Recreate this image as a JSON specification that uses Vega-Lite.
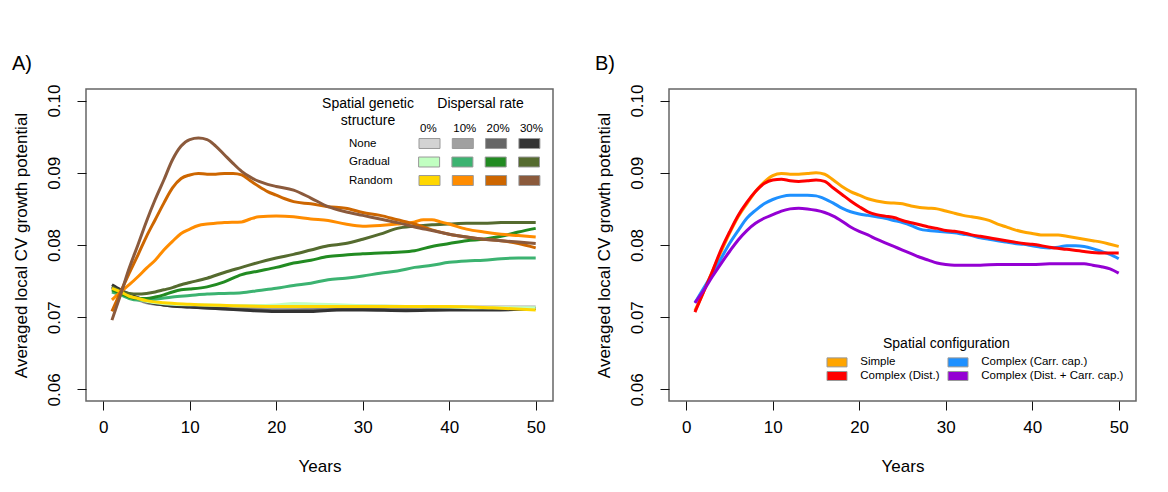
{
"$schema": "https://vega.github.io/schema/vega-lite/v6.json",
"background": "white",
"padding": {"left": 11, "top": 52, "right": 0, "bottom": 0},
"bounds": "flush",
"spacing": 116,
"resolve": {"scale": {"color": "independent", "shape": "independent"}},
"config": {
  "font": "Liberation Sans",
  "view": {"stroke": "#666", "strokeWidth": 1.5},
  "axis": {"grid": false, "domain": false, "tickColor": "#111", "tickSize": 9, "labelFontSize": 17, "titleFontSize": 17, "labelColor": "#000", "titleColor": "#000", "titleFontWeight": "normal", "labelPadding": 9, "labelFlush": false, "labelOverlap": false},
  "legend": {"titleFontWeight": "normal", "titleColor": "#000", "labelColor": "#000", "labelFontSize": 11.5, "padding": 0, "offset": 0},
  "title": {"fontSize": 20, "fontWeight": "normal", "anchor": "start", "frame": "bounds", "offset": 10.5, "color": "#000"}
},
"datasets": {
"A": [
{"structure":"None","rate":"0%","year":1,"value":0.0738},{"structure":"None","rate":"0%","year":2,"value":0.0734},{"structure":"None","rate":"0%","year":3,"value":0.0730},{"structure":"None","rate":"0%","year":4,"value":0.0726},{"structure":"None","rate":"0%","year":5,"value":0.0722},{"structure":"None","rate":"0%","year":7,"value":0.0719},{"structure":"None","rate":"0%","year":10,"value":0.0717},{"structure":"None","rate":"0%","year":13,"value":0.0716},{"structure":"None","rate":"0%","year":16,"value":0.0716},{"structure":"None","rate":"0%","year":20,"value":0.0715},{"structure":"None","rate":"0%","year":25,"value":0.0716},{"structure":"None","rate":"0%","year":30,"value":0.0716},{"structure":"None","rate":"0%","year":35,"value":0.0715},{"structure":"None","rate":"0%","year":40,"value":0.0715},{"structure":"None","rate":"0%","year":45,"value":0.0715},{"structure":"None","rate":"0%","year":50,"value":0.0715},
{"structure":"None","rate":"10%","year":1,"value":0.0740},{"structure":"None","rate":"10%","year":2,"value":0.0734},{"structure":"None","rate":"10%","year":3,"value":0.0728},{"structure":"None","rate":"10%","year":4,"value":0.0724},{"structure":"None","rate":"10%","year":5,"value":0.0720},{"structure":"None","rate":"10%","year":7,"value":0.0717},{"structure":"None","rate":"10%","year":10,"value":0.0715},{"structure":"None","rate":"10%","year":13,"value":0.0714},{"structure":"None","rate":"10%","year":16,"value":0.0713},{"structure":"None","rate":"10%","year":20,"value":0.0712},{"structure":"None","rate":"10%","year":25,"value":0.0712},{"structure":"None","rate":"10%","year":30,"value":0.0713},{"structure":"None","rate":"10%","year":35,"value":0.0712},{"structure":"None","rate":"10%","year":40,"value":0.0712},{"structure":"None","rate":"10%","year":45,"value":0.0712},{"structure":"None","rate":"10%","year":50,"value":0.0713},
{"structure":"None","rate":"20%","year":1,"value":0.0742},{"structure":"None","rate":"20%","year":2,"value":0.0735},{"structure":"None","rate":"20%","year":3,"value":0.0729},{"structure":"None","rate":"20%","year":4,"value":0.0725},{"structure":"None","rate":"20%","year":5,"value":0.0721},{"structure":"None","rate":"20%","year":7,"value":0.0717},{"structure":"None","rate":"20%","year":10,"value":0.0714},{"structure":"None","rate":"20%","year":13,"value":0.0712},{"structure":"None","rate":"20%","year":16,"value":0.0711},{"structure":"None","rate":"20%","year":20,"value":0.0709},{"structure":"None","rate":"20%","year":25,"value":0.0710},{"structure":"None","rate":"20%","year":30,"value":0.0711},{"structure":"None","rate":"20%","year":35,"value":0.0710},{"structure":"None","rate":"20%","year":40,"value":0.0711},{"structure":"None","rate":"20%","year":45,"value":0.0711},{"structure":"None","rate":"20%","year":50,"value":0.0712},
{"structure":"None","rate":"30%","year":1,"value":0.0745},{"structure":"None","rate":"30%","year":2,"value":0.0738},{"structure":"None","rate":"30%","year":3,"value":0.0732},{"structure":"None","rate":"30%","year":4,"value":0.0727},{"structure":"None","rate":"30%","year":5,"value":0.0722},{"structure":"None","rate":"30%","year":7,"value":0.0717},{"structure":"None","rate":"30%","year":10,"value":0.0714},{"structure":"None","rate":"30%","year":13,"value":0.0712},{"structure":"None","rate":"30%","year":16,"value":0.0710},{"structure":"None","rate":"30%","year":20,"value":0.0708},{"structure":"None","rate":"30%","year":24,"value":0.0708},{"structure":"None","rate":"30%","year":27,"value":0.0710},{"structure":"None","rate":"30%","year":30,"value":0.0710},{"structure":"None","rate":"30%","year":35,"value":0.0709},{"structure":"None","rate":"30%","year":40,"value":0.0710},{"structure":"None","rate":"30%","year":45,"value":0.0710},{"structure":"None","rate":"30%","year":50,"value":0.0712},
{"structure":"Gradual","rate":"0%","year":1,"value":0.0739},{"structure":"Gradual","rate":"0%","year":2,"value":0.0734},{"structure":"Gradual","rate":"0%","year":3,"value":0.0729},{"structure":"Gradual","rate":"0%","year":4,"value":0.0725},{"structure":"Gradual","rate":"0%","year":5,"value":0.0722},{"structure":"Gradual","rate":"0%","year":8,"value":0.0718},{"structure":"Gradual","rate":"0%","year":12,"value":0.0717},{"structure":"Gradual","rate":"0%","year":16,"value":0.0716},{"structure":"Gradual","rate":"0%","year":20,"value":0.0717},{"structure":"Gradual","rate":"0%","year":22,"value":0.0719},{"structure":"Gradual","rate":"0%","year":25,"value":0.0718},{"structure":"Gradual","rate":"0%","year":30,"value":0.0716},{"structure":"Gradual","rate":"0%","year":35,"value":0.0715},{"structure":"Gradual","rate":"0%","year":40,"value":0.0714},{"structure":"Gradual","rate":"0%","year":45,"value":0.0713},{"structure":"Gradual","rate":"0%","year":50,"value":0.0713},
{"structure":"Gradual","rate":"10%","year":1,"value":0.0735},{"structure":"Gradual","rate":"10%","year":2,"value":0.0731},{"structure":"Gradual","rate":"10%","year":3,"value":0.0726},{"structure":"Gradual","rate":"10%","year":4,"value":0.0724},{"structure":"Gradual","rate":"10%","year":5,"value":0.0724},{"structure":"Gradual","rate":"10%","year":6,"value":0.0725},{"structure":"Gradual","rate":"10%","year":8,"value":0.0728},{"structure":"Gradual","rate":"10%","year":10,"value":0.0730},{"structure":"Gradual","rate":"10%","year":12,"value":0.0732},{"structure":"Gradual","rate":"10%","year":14,"value":0.0733},{"structure":"Gradual","rate":"10%","year":16,"value":0.0734},{"structure":"Gradual","rate":"10%","year":18,"value":0.0737},{"structure":"Gradual","rate":"10%","year":20,"value":0.0740},{"structure":"Gradual","rate":"10%","year":22,"value":0.0744},{"structure":"Gradual","rate":"10%","year":24,"value":0.0747},{"structure":"Gradual","rate":"10%","year":26,"value":0.0752},{"structure":"Gradual","rate":"10%","year":28,"value":0.0754},{"structure":"Gradual","rate":"10%","year":30,"value":0.0757},{"structure":"Gradual","rate":"10%","year":32,"value":0.0761},{"structure":"Gradual","rate":"10%","year":34,"value":0.0764},{"structure":"Gradual","rate":"10%","year":36,"value":0.0769},{"structure":"Gradual","rate":"10%","year":38,"value":0.0772},{"structure":"Gradual","rate":"10%","year":40,"value":0.0776},{"structure":"Gradual","rate":"10%","year":42,"value":0.0778},{"structure":"Gradual","rate":"10%","year":44,"value":0.0779},{"structure":"Gradual","rate":"10%","year":46,"value":0.0781},{"structure":"Gradual","rate":"10%","year":48,"value":0.0782},{"structure":"Gradual","rate":"10%","year":50,"value":0.0782},
{"structure":"Gradual","rate":"20%","year":1,"value":0.0738},{"structure":"Gradual","rate":"20%","year":2,"value":0.0733},{"structure":"Gradual","rate":"20%","year":3,"value":0.0728},{"structure":"Gradual","rate":"20%","year":4,"value":0.0726},{"structure":"Gradual","rate":"20%","year":5,"value":0.0726},{"structure":"Gradual","rate":"20%","year":6,"value":0.0728},{"structure":"Gradual","rate":"20%","year":7,"value":0.0731},{"structure":"Gradual","rate":"20%","year":8,"value":0.0735},{"structure":"Gradual","rate":"20%","year":9,"value":0.0738},{"structure":"Gradual","rate":"20%","year":10,"value":0.0739},{"structure":"Gradual","rate":"20%","year":12,"value":0.0742},{"structure":"Gradual","rate":"20%","year":14,"value":0.0749},{"structure":"Gradual","rate":"20%","year":16,"value":0.0759},{"structure":"Gradual","rate":"20%","year":18,"value":0.0764},{"structure":"Gradual","rate":"20%","year":20,"value":0.0769},{"structure":"Gradual","rate":"20%","year":22,"value":0.0775},{"structure":"Gradual","rate":"20%","year":24,"value":0.0779},{"structure":"Gradual","rate":"20%","year":26,"value":0.0784},{"structure":"Gradual","rate":"20%","year":28,"value":0.0786},{"structure":"Gradual","rate":"20%","year":30,"value":0.0788},{"structure":"Gradual","rate":"20%","year":32,"value":0.0789},{"structure":"Gradual","rate":"20%","year":34,"value":0.0790},{"structure":"Gradual","rate":"20%","year":36,"value":0.0792},{"structure":"Gradual","rate":"20%","year":38,"value":0.0798},{"structure":"Gradual","rate":"20%","year":40,"value":0.0802},{"structure":"Gradual","rate":"20%","year":42,"value":0.0806},{"structure":"Gradual","rate":"20%","year":44,"value":0.0808},{"structure":"Gradual","rate":"20%","year":46,"value":0.0812},{"structure":"Gradual","rate":"20%","year":48,"value":0.0818},{"structure":"Gradual","rate":"20%","year":50,"value":0.0823},
{"structure":"Gradual","rate":"30%","year":1,"value":0.0742},{"structure":"Gradual","rate":"30%","year":2,"value":0.0736},{"structure":"Gradual","rate":"30%","year":3,"value":0.0733},{"structure":"Gradual","rate":"30%","year":4,"value":0.0732},{"structure":"Gradual","rate":"30%","year":5,"value":0.0733},{"structure":"Gradual","rate":"30%","year":6,"value":0.0735},{"structure":"Gradual","rate":"30%","year":7,"value":0.0738},{"structure":"Gradual","rate":"30%","year":8,"value":0.0741},{"structure":"Gradual","rate":"30%","year":9,"value":0.0745},{"structure":"Gradual","rate":"30%","year":10,"value":0.0748},{"structure":"Gradual","rate":"30%","year":12,"value":0.0754},{"structure":"Gradual","rate":"30%","year":14,"value":0.0762},{"structure":"Gradual","rate":"30%","year":16,"value":0.0769},{"structure":"Gradual","rate":"30%","year":18,"value":0.0776},{"structure":"Gradual","rate":"30%","year":20,"value":0.0782},{"structure":"Gradual","rate":"30%","year":22,"value":0.0787},{"structure":"Gradual","rate":"30%","year":24,"value":0.0793},{"structure":"Gradual","rate":"30%","year":26,"value":0.0799},{"structure":"Gradual","rate":"30%","year":28,"value":0.0802},{"structure":"Gradual","rate":"30%","year":30,"value":0.0808},{"structure":"Gradual","rate":"30%","year":32,"value":0.0815},{"structure":"Gradual","rate":"30%","year":34,"value":0.0823},{"structure":"Gradual","rate":"30%","year":36,"value":0.0826},{"structure":"Gradual","rate":"30%","year":38,"value":0.0828},{"structure":"Gradual","rate":"30%","year":40,"value":0.0829},{"structure":"Gradual","rate":"30%","year":42,"value":0.0830},{"structure":"Gradual","rate":"30%","year":44,"value":0.0830},{"structure":"Gradual","rate":"30%","year":46,"value":0.0831},{"structure":"Gradual","rate":"30%","year":48,"value":0.0831},{"structure":"Gradual","rate":"30%","year":50,"value":0.0831},
{"structure":"Random","rate":"0%","year":1,"value":0.0740},{"structure":"Random","rate":"0%","year":2,"value":0.0735},{"structure":"Random","rate":"0%","year":3,"value":0.0729},{"structure":"Random","rate":"0%","year":4,"value":0.0726},{"structure":"Random","rate":"0%","year":5,"value":0.0723},{"structure":"Random","rate":"0%","year":7,"value":0.0720},{"structure":"Random","rate":"0%","year":10,"value":0.0718},{"structure":"Random","rate":"0%","year":15,"value":0.0716},{"structure":"Random","rate":"0%","year":20,"value":0.0715},{"structure":"Random","rate":"0%","year":25,"value":0.0715},{"structure":"Random","rate":"0%","year":30,"value":0.0715},{"structure":"Random","rate":"0%","year":35,"value":0.0715},{"structure":"Random","rate":"0%","year":40,"value":0.0715},{"structure":"Random","rate":"0%","year":45,"value":0.0713},{"structure":"Random","rate":"0%","year":50,"value":0.0710},
{"structure":"Random","rate":"10%","year":1,"value":0.0724},{"structure":"Random","rate":"10%","year":2,"value":0.0735},{"structure":"Random","rate":"10%","year":3,"value":0.0745},{"structure":"Random","rate":"10%","year":4,"value":0.0756},{"structure":"Random","rate":"10%","year":5,"value":0.0768},{"structure":"Random","rate":"10%","year":6,"value":0.0779},{"structure":"Random","rate":"10%","year":7,"value":0.0793},{"structure":"Random","rate":"10%","year":8,"value":0.0805},{"structure":"Random","rate":"10%","year":9,"value":0.0816},{"structure":"Random","rate":"10%","year":10,"value":0.0822},{"structure":"Random","rate":"10%","year":11,"value":0.0827},{"structure":"Random","rate":"10%","year":12,"value":0.0829},{"structure":"Random","rate":"10%","year":14,"value":0.0831},{"structure":"Random","rate":"10%","year":16,"value":0.0832},{"structure":"Random","rate":"10%","year":17,"value":0.0836},{"structure":"Random","rate":"10%","year":18,"value":0.0839},{"structure":"Random","rate":"10%","year":20,"value":0.0840},{"structure":"Random","rate":"10%","year":22,"value":0.0839},{"structure":"Random","rate":"10%","year":24,"value":0.0836},{"structure":"Random","rate":"10%","year":26,"value":0.0834},{"structure":"Random","rate":"10%","year":28,"value":0.0829},{"structure":"Random","rate":"10%","year":30,"value":0.0826},{"structure":"Random","rate":"10%","year":32,"value":0.0827},{"structure":"Random","rate":"10%","year":34,"value":0.0829},{"structure":"Random","rate":"10%","year":36,"value":0.0832},{"structure":"Random","rate":"10%","year":37,"value":0.0835},{"structure":"Random","rate":"10%","year":38,"value":0.0835},{"structure":"Random","rate":"10%","year":39,"value":0.0832},{"structure":"Random","rate":"10%","year":40,"value":0.0829},{"structure":"Random","rate":"10%","year":42,"value":0.0822},{"structure":"Random","rate":"10%","year":44,"value":0.0818},{"structure":"Random","rate":"10%","year":46,"value":0.0815},{"structure":"Random","rate":"10%","year":48,"value":0.0813},{"structure":"Random","rate":"10%","year":50,"value":0.0811},
{"structure":"Random","rate":"20%","year":1,"value":0.0708},{"structure":"Random","rate":"20%","year":2,"value":0.0735},{"structure":"Random","rate":"20%","year":3,"value":0.0761},{"structure":"Random","rate":"20%","year":4,"value":0.0786},{"structure":"Random","rate":"20%","year":5,"value":0.0812},{"structure":"Random","rate":"20%","year":6,"value":0.0835},{"structure":"Random","rate":"20%","year":7,"value":0.0858},{"structure":"Random","rate":"20%","year":8,"value":0.0879},{"structure":"Random","rate":"20%","year":9,"value":0.0892},{"structure":"Random","rate":"20%","year":10,"value":0.0897},{"structure":"Random","rate":"20%","year":11,"value":0.0899},{"structure":"Random","rate":"20%","year":12,"value":0.0898},{"structure":"Random","rate":"20%","year":13,"value":0.0898},{"structure":"Random","rate":"20%","year":14,"value":0.0899},{"structure":"Random","rate":"20%","year":15,"value":0.0899},{"structure":"Random","rate":"20%","year":16,"value":0.0897},{"structure":"Random","rate":"20%","year":17,"value":0.0889},{"structure":"Random","rate":"20%","year":18,"value":0.0881},{"structure":"Random","rate":"20%","year":19,"value":0.0874},{"structure":"Random","rate":"20%","year":20,"value":0.0869},{"structure":"Random","rate":"20%","year":21,"value":0.0864},{"structure":"Random","rate":"20%","year":22,"value":0.0860},{"structure":"Random","rate":"20%","year":24,"value":0.0857},{"structure":"Random","rate":"20%","year":26,"value":0.0853},{"structure":"Random","rate":"20%","year":28,"value":0.0851},{"structure":"Random","rate":"20%","year":30,"value":0.0845},{"structure":"Random","rate":"20%","year":32,"value":0.0841},{"structure":"Random","rate":"20%","year":34,"value":0.0835},{"structure":"Random","rate":"20%","year":36,"value":0.0829},{"structure":"Random","rate":"20%","year":38,"value":0.0821},{"structure":"Random","rate":"20%","year":40,"value":0.0815},{"structure":"Random","rate":"20%","year":42,"value":0.0811},{"structure":"Random","rate":"20%","year":44,"value":0.0808},{"structure":"Random","rate":"20%","year":46,"value":0.0806},{"structure":"Random","rate":"20%","year":48,"value":0.0802},{"structure":"Random","rate":"20%","year":50,"value":0.0796},
{"structure":"Random","rate":"30%","year":1,"value":0.0696},{"structure":"Random","rate":"30%","year":2,"value":0.0731},{"structure":"Random","rate":"30%","year":3,"value":0.0768},{"structure":"Random","rate":"30%","year":4,"value":0.0800},{"structure":"Random","rate":"30%","year":5,"value":0.0833},{"structure":"Random","rate":"30%","year":6,"value":0.0863},{"structure":"Random","rate":"30%","year":7,"value":0.0890},{"structure":"Random","rate":"30%","year":8,"value":0.0918},{"structure":"Random","rate":"30%","year":9,"value":0.0937},{"structure":"Random","rate":"30%","year":10,"value":0.0946},{"structure":"Random","rate":"30%","year":11,"value":0.0948},{"structure":"Random","rate":"30%","year":12,"value":0.0946},{"structure":"Random","rate":"30%","year":13,"value":0.0937},{"structure":"Random","rate":"30%","year":14,"value":0.0925},{"structure":"Random","rate":"30%","year":15,"value":0.0913},{"structure":"Random","rate":"30%","year":16,"value":0.0902},{"structure":"Random","rate":"30%","year":17,"value":0.0894},{"structure":"Random","rate":"30%","year":18,"value":0.0888},{"structure":"Random","rate":"30%","year":19,"value":0.0884},{"structure":"Random","rate":"30%","year":20,"value":0.0881},{"structure":"Random","rate":"30%","year":22,"value":0.0876},{"structure":"Random","rate":"30%","year":24,"value":0.0865},{"structure":"Random","rate":"30%","year":26,"value":0.0853},{"structure":"Random","rate":"30%","year":28,"value":0.0846},{"structure":"Random","rate":"30%","year":30,"value":0.0841},{"structure":"Random","rate":"30%","year":32,"value":0.0836},{"structure":"Random","rate":"30%","year":34,"value":0.0831},{"structure":"Random","rate":"30%","year":36,"value":0.0825},{"structure":"Random","rate":"30%","year":38,"value":0.0820},{"structure":"Random","rate":"30%","year":40,"value":0.0815},{"structure":"Random","rate":"30%","year":42,"value":0.0811},{"structure":"Random","rate":"30%","year":44,"value":0.0808},{"structure":"Random","rate":"30%","year":46,"value":0.0806},{"structure":"Random","rate":"30%","year":48,"value":0.0804},{"structure":"Random","rate":"30%","year":50,"value":0.0802}
],
"B": [
{"config":"Simple","year":1,"value":0.0709},{"config":"Simple","year":2,"value":0.0735},{"config":"Simple","year":3,"value":0.0763},{"config":"Simple","year":4,"value":0.0790},{"config":"Simple","year":5,"value":0.0816},{"config":"Simple","year":6,"value":0.0839},{"config":"Simple","year":7,"value":0.0857},{"config":"Simple","year":8,"value":0.0874},{"config":"Simple","year":9,"value":0.0887},{"config":"Simple","year":10,"value":0.0896},{"config":"Simple","year":11,"value":0.0899},{"config":"Simple","year":12,"value":0.0898},{"config":"Simple","year":13,"value":0.0898},{"config":"Simple","year":14,"value":0.0899},{"config":"Simple","year":15,"value":0.0900},{"config":"Simple","year":16,"value":0.0898},{"config":"Simple","year":17,"value":0.0890},{"config":"Simple","year":18,"value":0.0881},{"config":"Simple","year":19,"value":0.0874},{"config":"Simple","year":20,"value":0.0869},{"config":"Simple","year":21,"value":0.0864},{"config":"Simple","year":22,"value":0.0861},{"config":"Simple","year":23,"value":0.0859},{"config":"Simple","year":24,"value":0.0858},{"config":"Simple","year":25,"value":0.0857},{"config":"Simple","year":26,"value":0.0854},{"config":"Simple","year":27,"value":0.0852},{"config":"Simple","year":28,"value":0.0851},{"config":"Simple","year":29,"value":0.0850},{"config":"Simple","year":30,"value":0.0847},{"config":"Simple","year":31,"value":0.0844},{"config":"Simple","year":32,"value":0.0841},{"config":"Simple","year":33,"value":0.0839},{"config":"Simple","year":34,"value":0.0837},{"config":"Simple","year":35,"value":0.0834},{"config":"Simple","year":36,"value":0.0829},{"config":"Simple","year":37,"value":0.0825},{"config":"Simple","year":38,"value":0.0821},{"config":"Simple","year":39,"value":0.0818},{"config":"Simple","year":40,"value":0.0816},{"config":"Simple","year":41,"value":0.0814},{"config":"Simple","year":42,"value":0.0814},{"config":"Simple","year":43,"value":0.0814},{"config":"Simple","year":44,"value":0.0812},{"config":"Simple","year":45,"value":0.0810},{"config":"Simple","year":46,"value":0.0808},{"config":"Simple","year":47,"value":0.0806},{"config":"Simple","year":48,"value":0.0804},{"config":"Simple","year":49,"value":0.0801},{"config":"Simple","year":50,"value":0.0798},
{"config":"Complex (Carr. cap.)","year":1,"value":0.0720},{"config":"Complex (Carr. cap.)","year":2,"value":0.0740},{"config":"Complex (Carr. cap.)","year":3,"value":0.0760},{"config":"Complex (Carr. cap.)","year":4,"value":0.0781},{"config":"Complex (Carr. cap.)","year":5,"value":0.0802},{"config":"Complex (Carr. cap.)","year":6,"value":0.0820},{"config":"Complex (Carr. cap.)","year":7,"value":0.0837},{"config":"Complex (Carr. cap.)","year":8,"value":0.0848},{"config":"Complex (Carr. cap.)","year":9,"value":0.0857},{"config":"Complex (Carr. cap.)","year":10,"value":0.0863},{"config":"Complex (Carr. cap.)","year":11,"value":0.0867},{"config":"Complex (Carr. cap.)","year":12,"value":0.0869},{"config":"Complex (Carr. cap.)","year":13,"value":0.0869},{"config":"Complex (Carr. cap.)","year":14,"value":0.0869},{"config":"Complex (Carr. cap.)","year":15,"value":0.0868},{"config":"Complex (Carr. cap.)","year":16,"value":0.0864},{"config":"Complex (Carr. cap.)","year":17,"value":0.0858},{"config":"Complex (Carr. cap.)","year":18,"value":0.0851},{"config":"Complex (Carr. cap.)","year":19,"value":0.0846},{"config":"Complex (Carr. cap.)","year":20,"value":0.0843},{"config":"Complex (Carr. cap.)","year":21,"value":0.0841},{"config":"Complex (Carr. cap.)","year":22,"value":0.0839},{"config":"Complex (Carr. cap.)","year":23,"value":0.0837},{"config":"Complex (Carr. cap.)","year":24,"value":0.0834},{"config":"Complex (Carr. cap.)","year":25,"value":0.0831},{"config":"Complex (Carr. cap.)","year":26,"value":0.0827},{"config":"Complex (Carr. cap.)","year":27,"value":0.0822},{"config":"Complex (Carr. cap.)","year":28,"value":0.0820},{"config":"Complex (Carr. cap.)","year":29,"value":0.0819},{"config":"Complex (Carr. cap.)","year":30,"value":0.0818},{"config":"Complex (Carr. cap.)","year":31,"value":0.0817},{"config":"Complex (Carr. cap.)","year":32,"value":0.0815},{"config":"Complex (Carr. cap.)","year":33,"value":0.0813},{"config":"Complex (Carr. cap.)","year":34,"value":0.0810},{"config":"Complex (Carr. cap.)","year":35,"value":0.0808},{"config":"Complex (Carr. cap.)","year":36,"value":0.0806},{"config":"Complex (Carr. cap.)","year":37,"value":0.0804},{"config":"Complex (Carr. cap.)","year":38,"value":0.0802},{"config":"Complex (Carr. cap.)","year":39,"value":0.0801},{"config":"Complex (Carr. cap.)","year":40,"value":0.0799},{"config":"Complex (Carr. cap.)","year":41,"value":0.0797},{"config":"Complex (Carr. cap.)","year":42,"value":0.0796},{"config":"Complex (Carr. cap.)","year":43,"value":0.0797},{"config":"Complex (Carr. cap.)","year":44,"value":0.0799},{"config":"Complex (Carr. cap.)","year":45,"value":0.0799},{"config":"Complex (Carr. cap.)","year":46,"value":0.0798},{"config":"Complex (Carr. cap.)","year":47,"value":0.0795},{"config":"Complex (Carr. cap.)","year":48,"value":0.0791},{"config":"Complex (Carr. cap.)","year":49,"value":0.0787},{"config":"Complex (Carr. cap.)","year":50,"value":0.0781},
{"config":"Complex (Dist.)","year":1,"value":0.0707},{"config":"Complex (Dist.)","year":2,"value":0.0735},{"config":"Complex (Dist.)","year":3,"value":0.0763},{"config":"Complex (Dist.)","year":4,"value":0.0793},{"config":"Complex (Dist.)","year":5,"value":0.0818},{"config":"Complex (Dist.)","year":6,"value":0.0841},{"config":"Complex (Dist.)","year":7,"value":0.0859},{"config":"Complex (Dist.)","year":8,"value":0.0874},{"config":"Complex (Dist.)","year":9,"value":0.0885},{"config":"Complex (Dist.)","year":10,"value":0.0890},{"config":"Complex (Dist.)","year":11,"value":0.0891},{"config":"Complex (Dist.)","year":12,"value":0.0889},{"config":"Complex (Dist.)","year":13,"value":0.0888},{"config":"Complex (Dist.)","year":14,"value":0.0889},{"config":"Complex (Dist.)","year":15,"value":0.0890},{"config":"Complex (Dist.)","year":16,"value":0.0888},{"config":"Complex (Dist.)","year":17,"value":0.0879},{"config":"Complex (Dist.)","year":18,"value":0.0870},{"config":"Complex (Dist.)","year":19,"value":0.0861},{"config":"Complex (Dist.)","year":20,"value":0.0853},{"config":"Complex (Dist.)","year":21,"value":0.0846},{"config":"Complex (Dist.)","year":22,"value":0.0842},{"config":"Complex (Dist.)","year":23,"value":0.0840},{"config":"Complex (Dist.)","year":24,"value":0.0838},{"config":"Complex (Dist.)","year":25,"value":0.0834},{"config":"Complex (Dist.)","year":26,"value":0.0831},{"config":"Complex (Dist.)","year":27,"value":0.0828},{"config":"Complex (Dist.)","year":28,"value":0.0825},{"config":"Complex (Dist.)","year":29,"value":0.0823},{"config":"Complex (Dist.)","year":30,"value":0.0820},{"config":"Complex (Dist.)","year":31,"value":0.0819},{"config":"Complex (Dist.)","year":32,"value":0.0817},{"config":"Complex (Dist.)","year":33,"value":0.0814},{"config":"Complex (Dist.)","year":34,"value":0.0812},{"config":"Complex (Dist.)","year":35,"value":0.0810},{"config":"Complex (Dist.)","year":36,"value":0.0808},{"config":"Complex (Dist.)","year":37,"value":0.0806},{"config":"Complex (Dist.)","year":38,"value":0.0804},{"config":"Complex (Dist.)","year":39,"value":0.0802},{"config":"Complex (Dist.)","year":40,"value":0.0801},{"config":"Complex (Dist.)","year":42,"value":0.0797},{"config":"Complex (Dist.)","year":44,"value":0.0794},{"config":"Complex (Dist.)","year":46,"value":0.0791},{"config":"Complex (Dist.)","year":48,"value":0.0789},{"config":"Complex (Dist.)","year":50,"value":0.0789},
{"config":"Complex (Dist. + Carr. cap.)","year":1,"value":0.0720},{"config":"Complex (Dist. + Carr. cap.)","year":2,"value":0.0737},{"config":"Complex (Dist. + Carr. cap.)","year":3,"value":0.0756},{"config":"Complex (Dist. + Carr. cap.)","year":4,"value":0.0774},{"config":"Complex (Dist. + Carr. cap.)","year":5,"value":0.0791},{"config":"Complex (Dist. + Carr. cap.)","year":6,"value":0.0807},{"config":"Complex (Dist. + Carr. cap.)","year":7,"value":0.0820},{"config":"Complex (Dist. + Carr. cap.)","year":8,"value":0.0830},{"config":"Complex (Dist. + Carr. cap.)","year":9,"value":0.0837},{"config":"Complex (Dist. + Carr. cap.)","year":10,"value":0.0842},{"config":"Complex (Dist. + Carr. cap.)","year":11,"value":0.0847},{"config":"Complex (Dist. + Carr. cap.)","year":12,"value":0.0850},{"config":"Complex (Dist. + Carr. cap.)","year":13,"value":0.0851},{"config":"Complex (Dist. + Carr. cap.)","year":14,"value":0.0850},{"config":"Complex (Dist. + Carr. cap.)","year":15,"value":0.0848},{"config":"Complex (Dist. + Carr. cap.)","year":16,"value":0.0845},{"config":"Complex (Dist. + Carr. cap.)","year":17,"value":0.0840},{"config":"Complex (Dist. + Carr. cap.)","year":18,"value":0.0833},{"config":"Complex (Dist. + Carr. cap.)","year":19,"value":0.0825},{"config":"Complex (Dist. + Carr. cap.)","year":20,"value":0.0819},{"config":"Complex (Dist. + Carr. cap.)","year":21,"value":0.0814},{"config":"Complex (Dist. + Carr. cap.)","year":22,"value":0.0808},{"config":"Complex (Dist. + Carr. cap.)","year":23,"value":0.0803},{"config":"Complex (Dist. + Carr. cap.)","year":24,"value":0.0798},{"config":"Complex (Dist. + Carr. cap.)","year":25,"value":0.0793},{"config":"Complex (Dist. + Carr. cap.)","year":26,"value":0.0788},{"config":"Complex (Dist. + Carr. cap.)","year":27,"value":0.0783},{"config":"Complex (Dist. + Carr. cap.)","year":28,"value":0.0779},{"config":"Complex (Dist. + Carr. cap.)","year":29,"value":0.0775},{"config":"Complex (Dist. + Carr. cap.)","year":30,"value":0.0773},{"config":"Complex (Dist. + Carr. cap.)","year":31,"value":0.0772},{"config":"Complex (Dist. + Carr. cap.)","year":32,"value":0.0772},{"config":"Complex (Dist. + Carr. cap.)","year":34,"value":0.0772},{"config":"Complex (Dist. + Carr. cap.)","year":36,"value":0.0773},{"config":"Complex (Dist. + Carr. cap.)","year":38,"value":0.0773},{"config":"Complex (Dist. + Carr. cap.)","year":40,"value":0.0773},{"config":"Complex (Dist. + Carr. cap.)","year":42,"value":0.0774},{"config":"Complex (Dist. + Carr. cap.)","year":44,"value":0.0774},{"config":"Complex (Dist. + Carr. cap.)","year":46,"value":0.0774},{"config":"Complex (Dist. + Carr. cap.)","year":47,"value":0.0772},{"config":"Complex (Dist. + Carr. cap.)","year":48,"value":0.0770},{"config":"Complex (Dist. + Carr. cap.)","year":49,"value":0.0767},{"config":"Complex (Dist. + Carr. cap.)","year":50,"value":0.0761}
]
},
"hconcat": [
{
  "width": 467, "height": 312,
  "title": {"text": "A)"},
  "data": {"name": "A"},
  "encoding": {
    "x": {"field": "year", "type": "quantitative", "scale": {"domain": [-2, 52], "nice": false, "zero": false}, "axis": {"values": [0,10,20,30,40,50], "format": "d", "title": "Years", "titlePadding": 23.5}},
    "y": {"field": "value", "type": "quantitative", "scale": {"domain": [0.0584, 0.1016], "nice": false, "zero": false}, "axis": {"values": [0.06,0.07,0.08,0.09,0.1], "format": ".2f", "labelAngle": 270, "labelAlign": "center", "labelBaseline": "bottom", "labelPadding": 14, "title": "Averaged local CV growth potential", "titlePadding": 15}}
  },
  "layer": [
    {"transform": [{"filter": "datum.structure === 'None'"}],
     "mark": {"type": "line", "strokeWidth": 3, "interpolate": "monotone"},
     "encoding": {"color": {"field": "rate", "type": "nominal", "legend": null,
       "scale": {"domain": ["0%","10%","20%","30%"], "range": ["#d3d3d3","#a0a0a0","#666666","#333333"]}}}},
    {"transform": [{"filter": "datum.structure === 'Gradual'"}],
     "mark": {"type": "line", "strokeWidth": 3, "interpolate": "monotone"},
     "encoding": {"color": {"field": "rate", "type": "nominal", "legend": null,
       "scale": {"domain": ["0%","10%","20%","30%"], "range": ["#c1ffc1","#3cb371","#228b22","#556b2f"]}}}},
    {"transform": [{"filter": "datum.structure === 'Random'"}],
     "mark": {"type": "line", "strokeWidth": 3, "interpolate": "monotone"},
     "encoding": {"color": {"field": "rate", "type": "nominal", "legend": null,
       "scale": {"domain": ["0%","10%","20%","30%"], "range": ["#ffd700","#ff8c00","#cd6600","#8b5a3c"]}}}},
    {"transform": [{"filter": "datum.structure === 'None' && datum.year === 1"}],
     "mark": {"type": "square", "opacity": 0},
     "encoding": {"color": {"field": "rate", "type": "nominal",
       "scale": {"domain": ["0%","10%","20%","30%"], "range": ["#d3d3d3","#a0a0a0","#666666","#333333"]},
       "legend": {"title": "None", "orient": "none", "direction": "horizontal", "legendX": 263, "legendY": 48.5, "titleOrient": "left", "titleAnchor": "middle", "titleBaseline": "middle", "titleFontSize": 11.5, "titlePadding": 42, "columns": 4, "columnPadding": 8.3, "symbolType": "M-2,-0.95H2V0.95H-2Z", "symbolSize": 110.25, "symbolOffset": 4.5, "symbolStrokeColor": "#999", "symbolStrokeWidth": 1, "symbolOpacity": 1, "labelExpr": "''", "labelOffset": 0}}}},
    {"transform": [{"filter": "datum.structure === 'Gradual' && datum.year === 1"}],
     "mark": {"type": "square", "opacity": 0},
     "encoding": {"color": {"field": "rate", "type": "nominal",
       "scale": {"domain": ["0%","10%","20%","30%"], "range": ["#c1ffc1","#3cb371","#228b22","#556b2f"]},
       "legend": {"title": "Gradual", "orient": "none", "direction": "horizontal", "legendX": 263, "legendY": 67, "titleOrient": "left", "titleAnchor": "middle", "titleBaseline": "middle", "titleFontSize": 11.5, "titlePadding": 28.6, "columns": 4, "columnPadding": 8.3, "symbolType": "M-2,-0.95H2V0.95H-2Z", "symbolSize": 110.25, "symbolOffset": 4.5, "symbolStrokeColor": "#999", "symbolStrokeWidth": 1, "symbolOpacity": 1, "labelExpr": "''", "labelOffset": 0}}}},
    {"transform": [{"filter": "datum.structure === 'Random' && datum.year === 1"}],
     "mark": {"type": "square", "opacity": 0},
     "encoding": {"color": {"field": "rate", "type": "nominal",
       "scale": {"domain": ["0%","10%","20%","30%"], "range": ["#ffd700","#ff8c00","#cd6600","#8b5a3c"]},
       "legend": {"title": "Random", "orient": "none", "direction": "horizontal", "legendX": 263, "legendY": 85.5, "titleOrient": "left", "titleAnchor": "middle", "titleBaseline": "middle", "titleFontSize": 11.5, "titlePadding": 26, "columns": 4, "columnPadding": 8.3, "symbolType": "M-2,-0.95H2V0.95H-2Z", "symbolSize": 110.25, "symbolOffset": 4.5, "symbolStrokeColor": "#999", "symbolStrokeWidth": 1, "symbolOpacity": 1, "labelExpr": "''", "labelOffset": 0}}}},
    {"transform": [{"filter": "datum.structure === 'None' && datum.year === 1"}],
     "mark": {"type": "point", "opacity": 0},
     "encoding": {"shape": {"field": "rate", "type": "nominal", "scale": {"domain": ["0%","10%","20%","30%"]},
       "legend": {"title": "Dispersal rate", "orient": "none", "direction": "horizontal", "legendX": 332.5, "legendY": 8, "titleAnchor": "middle", "titleFontSize": 14, "titlePadding": 12, "columns": 4, "columnPadding": 8.3, "gridAlign": "all", "symbolSize": 1, "symbolOpacity": 0, "labelOffset": -10, "labelFontSize": 11.5}}}},
    {"transform": [{"filter": "datum.structure === 'None' && datum.rate === '0%' && datum.year === 1"}],
     "mark": {"type": "point", "opacity": 0},
     "encoding": {"shape": {"field": "structure", "type": "nominal",
       "legend": {"title": ["Spatial genetic", "structure"], "orient": "none", "legendX": 236, "legendY": 8, "titleAnchor": "middle", "titleAlign": "center", "titleFontSize": 14, "titleLineHeight": 17, "symbolSize": 1, "symbolOpacity": 0, "labelExpr": "''"}}}}
  ],
  "resolve": {"scale": {"color": "independent", "shape": "independent"}}
},
{
  "width": 467, "height": 312,
  "title": {"text": "B)"},
  "data": {"name": "B"},
  "encoding": {
    "x": {"field": "year", "type": "quantitative", "scale": {"domain": [-2, 52], "nice": false, "zero": false}, "axis": {"values": [0,10,20,30,40,50], "format": "d", "title": "Years", "titlePadding": 23.5}},
    "y": {"field": "value", "type": "quantitative", "scale": {"domain": [0.0584, 0.1016], "nice": false, "zero": false}, "axis": {"values": [0.06,0.07,0.08,0.09,0.1], "format": ".2f", "labelAngle": 270, "labelAlign": "center", "labelBaseline": "bottom", "labelPadding": 14, "title": "Averaged local CV growth potential", "titlePadding": 15}}
  },
  "layer": [
    {"mark": {"type": "line", "strokeWidth": 3, "interpolate": "monotone"},
     "encoding": {"color": {"field": "config", "type": "nominal", "legend": null,
       "scale": {"domain": ["Simple","Complex (Carr. cap.)","Complex (Dist.)","Complex (Dist. + Carr. cap.)"], "range": ["#ffa500","#1e90ff","#ff0000","#9400d3"]}}}},
    {"transform": [{"filter": "datum.year === 1"}],
     "mark": {"type": "square", "opacity": 0},
     "encoding": {"color": {"field": "config", "type": "nominal",
       "scale": {"domain": ["Simple","Complex (Carr. cap.)","Complex (Dist.)","Complex (Dist. + Carr. cap.)"], "range": ["#ffa500","#1e90ff","#ff0000","#9400d3"]},
       "legend": {"title": null, "orient": "none", "direction": "horizontal", "values": ["Simple","Complex (Carr. cap.)","Complex (Dist.)","Complex (Dist. + Carr. cap.)"], "legendX": 158, "legendY": 267.25, "columns": 2, "columnPadding": 6, "rowPadding": 0, "symbolType": "M-2,-0.9H2V0.9H-2Z", "symbolSize": 100, "symbolOffset": 4.25, "symbolStrokeColor": "#999", "symbolStrokeWidth": 1, "symbolOpacity": 1, "labelOffset": 17.5, "labelFontSize": 11.5}}}},
    {"transform": [{"filter": "datum.year === 1 && datum.config === 'Simple'"}],
     "mark": {"type": "point", "opacity": 0},
     "encoding": {"shape": {"field": "config", "type": "nominal",
       "legend": {"title": "Spatial configuration", "orient": "none", "legendX": 214, "legendY": 248, "titleFontSize": 14, "symbolSize": 1, "symbolOpacity": 0, "labelExpr": "''"}}}}
  ],
  "resolve": {"scale": {"color": "independent", "shape": "independent"}}
}
]
}
